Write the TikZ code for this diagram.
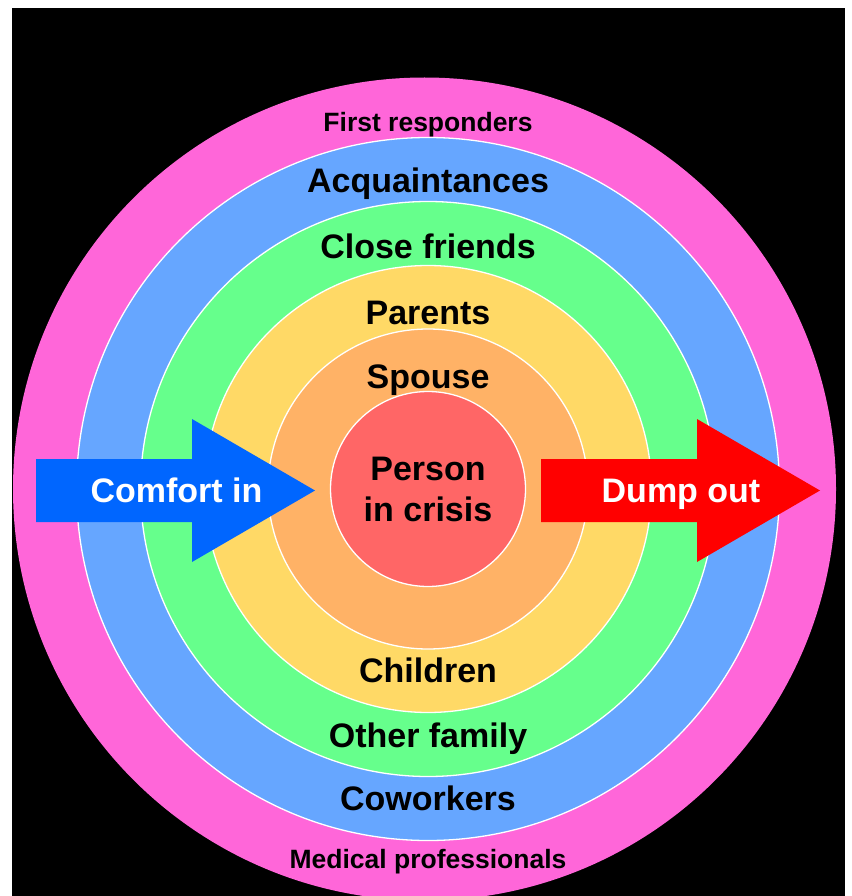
\documentclass[tikz,border=0pt]{standalone}
\usepackage{fontspec}
\setmainfont{Liberation Sans}
\usepackage{xcolor}
\usepackage{tikz}

\definecolor{pinkring}{RGB}{255,102,217}
\definecolor{bluering}{RGB}{102,166,255}
\definecolor{greenring}{RGB}{102,255,140}
\definecolor{yellowring}{RGB}{255,217,102}
\definecolor{orangering}{RGB}{255,178,102}
\definecolor{redring}{RGB}{255,102,102}
\definecolor{comfortblue}{RGB}{0,102,255}
\definecolor{dumpred}{RGB}{255,0,0}

\begin{document}
\begin{tikzpicture}[
	x = 1pt, y = -1pt,
	ring/.style      = {circle, draw=white, line width=1.3pt, inner sep=0pt},
	ringtext/.style  = {anchor=base, inner sep=0pt, font=\fontsize{34}{41}\selectfont\bfseries},
	smalltext/.style = {ringtext, font=\fontsize{26.5}{32}\selectfont\bfseries},
	arrowtext/.style = {ringtext, text=white}
]
	\useasboundingbox (0,0) rectangle (851,896);
	\fill[white] (0,0) rectangle (851,896);
	\fill[black] (12,8) rectangle (845,896);

	% rings, from the outside in
	\node[ring, draw=none, fill=pinkring, minimum size=823] (responders) at (424.5,489) {};
	\node[ring, fill=bluering,   minimum size=703] (acquaint) at (428,489) {};
	\node[ring, fill=greenring,  minimum size=575] (friends)  at (428,489) {};
	\node[ring, fill=yellowring, minimum size=447] (parents)  at (428,489) {};
	\node[ring, fill=orangering, minimum size=320] (spouse)   at (428,489) {};
	\node[ring, fill=redring,    minimum size=195, align=center,
		font=\fontsize{34}{41}\selectfont\bfseries] (crisis) at (428,489) {Person\\in crisis};

	% ring labels
	\node[smalltext] (t-first)    at (428,132) {First responders};
	\node[ringtext]  (t-acq)      at (428,193) {Acquaintances};
	\node[ringtext]  (t-close)    at (428,258) {Close friends};
	\node[ringtext]  (t-parents)  at (428,324) {Parents};
	\node[ringtext]  (t-spouse)   at (428,388) {Spouse};
	\node[ringtext]  (t-children) at (428,682) {Children};
	\node[ringtext]  (t-family)   at (428,747) {Other family};
	\node[ringtext]  (t-cowork)   at (428,810) {Coworkers};
	\node[smalltext] (t-medical)  at (428,868) {Medical professionals};

	% arrows
	\coordinate (in-tail)  at (36,490.5);
	\coordinate (out-tail) at (541,490.5);
	\fill[comfortblue] (in-tail) ++(0,-31.5) -- ++(156,0) -- ++(0,-40) -- ++(123,71.5)
		-- ++(-123,71.5) -- ++(0,-40) -- ++(-156,0) -- cycle;
	\fill[dumpred] (out-tail) ++(0,-31.5) -- ++(156,0) -- ++(0,-40) -- ++(123,71.5)
		-- ++(-123,71.5) -- ++(0,-40) -- ++(-156,0) -- cycle;
	\node[arrowtext] (comfort) at (176.5,502) {Comfort in};
	\node[arrowtext] (dump)    at (681,502)   {Dump out};
\end{tikzpicture}
\end{document}
